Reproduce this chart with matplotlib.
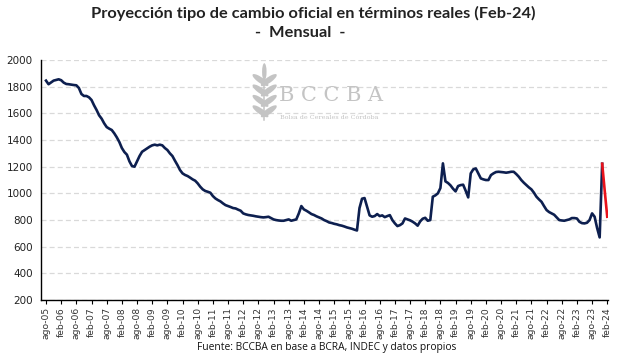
import matplotlib
matplotlib.use("Agg")
import matplotlib.pyplot as plt
from matplotlib.patches import Ellipse
import numpy as np

inicio_anio, inicio_mes = 2005, 8
valores = [
    1845, 1818, 1832, 1845, 1850,                                          # 2005
    1855, 1848, 1830, 1820, 1818, 1815, 1812, 1810, 1790, 1745, 1730, 1730,  # 2006
    1720, 1700, 1660, 1625, 1585, 1560, 1525, 1497, 1485, 1475, 1450, 1420,  # 2007
    1385, 1340, 1310, 1290, 1240, 1205, 1200, 1240, 1280, 1312, 1325, 1337,  # 2008
    1350, 1360, 1365, 1360, 1365, 1360, 1340, 1325, 1300, 1280, 1245, 1212,  # 2009
    1175, 1150, 1138, 1130, 1118, 1105, 1095, 1075, 1050, 1030, 1018, 1012,  # 2010
    1005, 980, 962, 950, 940, 925, 912, 905, 898, 890, 887, 878,             # 2011
    870, 850, 843, 838, 835, 832, 828, 825, 822, 820, 822, 825,              # 2012
    815, 805, 800, 797, 795, 795, 800, 805, 795, 800, 805, 850,              # 2013
    905, 880, 870, 858, 845, 838, 828, 820, 812, 800, 792, 782,              # 2014
    778, 772, 768, 762, 758, 752, 745, 740, 735, 728, 722, 890,              # 2015
    960, 965, 900, 835, 825, 830, 845, 830, 835, 822, 830, 837,              # 2016
    800, 775, 755, 762, 775, 812, 805, 798, 788, 775, 758, 790,              # 2017
    810, 817, 795, 800, 975, 985, 1000, 1040, 1225, 1090, 1078, 1060,        # 2018
    1035, 1015, 1055, 1062, 1065, 1020, 970, 1150, 1180, 1187, 1150, 1112,   # 2019
    1105, 1100, 1100, 1137, 1150, 1160, 1162, 1160, 1158, 1155, 1158, 1162,  # 2020
    1162, 1145, 1125, 1100, 1080, 1062, 1045, 1030, 1005, 975, 955, 937,     # 2021
    905, 875, 860, 850, 840, 820, 800, 797, 795, 800, 805, 815,              # 2022
    815, 812, 787, 777, 775, 780, 800, 850, 825, 740, 670, 1222,             # 2023
]
# proyeccion dic-23 a feb-24
proyeccion = [1222, 1020, 825]

meses = ["ene", "feb", "mar", "abr", "may", "jun",
         "jul", "ago", "sep", "oct", "nov", "dic"]

n_total = len(valores) + len(proyeccion) - 1
etiquetas = []
pos_ticks = []
for i in range(n_total):
    m = (inicio_mes - 1 + i) % 12
    a = inicio_anio + (inicio_mes - 1 + i) // 12
    if m in (1, 7):
        pos_ticks.append(i)
        etiquetas.append("%s-%02d" % (meses[m], a % 100))

fig = plt.figure(figsize=(6.4, 3.59), dpi=100)
ax = fig.add_axes([0.064, 0.164, 0.886, 0.669])

x = np.arange(len(valores))
xp = np.arange(len(valores) - 1, n_total)
ax.plot(x, valores, color="#0d1f4f", lw=1.9, solid_joinstyle="round", zorder=3)
ax.plot(xp, proyeccion, color="#e8121c", lw=1.9, zorder=3)

ax.set_ylim(200, 2000)
ax.set_yticks(range(200, 2001, 200))
ax.set_xlim(-2, n_total - 1 + 0.3)
ax.set_xticks(pos_ticks)
ax.set_xticklabels(etiquetas, rotation=90, fontsize=6.6, color="#333333")
ax.tick_params(axis="y", length=0, labelsize=7.5, pad=6, colors="#222222")
ax.tick_params(axis="x", length=3, width=0.8, pad=2)
ax.yaxis.grid(True, color="#d9d9d9", ls=(0, (4, 2.5)), lw=0.9)
ax.set_axisbelow(True)
for s in ("top", "right"):
    ax.spines[s].set_visible(False)
ax.spines["left"].set_linewidth(1)
ax.spines["bottom"].set_linewidth(1)

fig.text(0.489, 0.963, "Proyección tipo de cambio oficial en términos reales (Feb-24)",
         ha="center", va="center", fontsize=11.8, fontweight="bold",
         family="Lato", color="#222222")
fig.text(0.469, 0.908, "-  Mensual  -", ha="center", va="center", fontsize=11.8,
         fontweight="bold", family="Lato", color="#222222")
fig.text(0.51, 0.033, "Fuente: BCCBA en base a BCRA, INDEC y datos propios",
         ha="center", va="center", fontsize=7.4, family="Open Sans", color="#111111")

# marca de agua
gris = "#c4c4c4"
fig.text(0.517, 0.733, "B C C B A", ha="center", va="center", fontsize=15,
         family="DejaVu Serif", color=gris)
fig.text(0.514, 0.673, "Bolsa de Cereales de Córdoba", ha="center", va="center",
         fontsize=4.6, family="DejaVu Serif", color=gris)
fig.add_artist(plt.Line2D([0.413, 0.413], [0.665, 0.8], color=gris, lw=1.1))
for k in range(4):
    yy = 0.69 + k * 0.029
    fig.add_artist(Ellipse((0.407, yy), 0.012, 0.04, angle=35, color=gris, lw=0))
    fig.add_artist(Ellipse((0.42, yy), 0.012, 0.04, angle=-35, color=gris, lw=0))
fig.add_artist(Ellipse((0.413, 0.8), 0.007, 0.048, color=gris, lw=0))

fig.savefig("out.png", dpi=100)
